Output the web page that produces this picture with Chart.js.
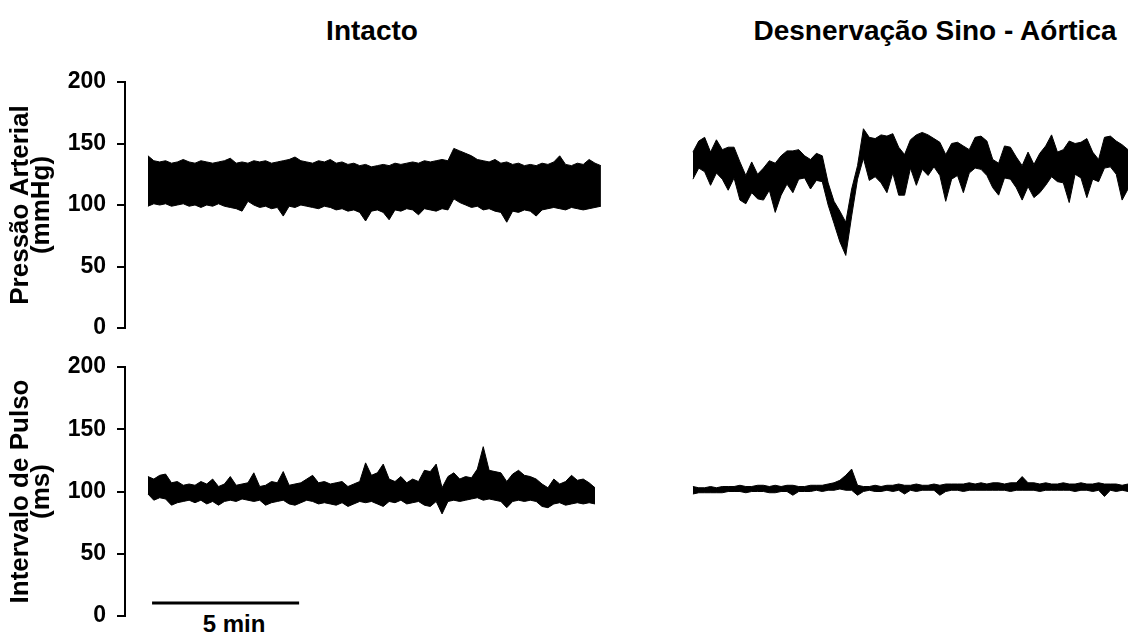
<!DOCTYPE html>
<html>
<head>
<meta charset="utf-8">
<script src="https://cdn.jsdelivr.net/npm/chart.js@4.4.1/dist/chart.umd.min.js"></script>
<style>
    body { margin: 0; background: #fff; width: 1128px; height: 634px; position: relative; overflow: hidden; }
    canvas { position: absolute; }
    .label { position: absolute; font-family: "Liberation Sans", Arial, sans-serif; font-weight: bold; color: #000; white-space: nowrap; transform: translateX(-50%); }
    .title { font-size: 28px; line-height: 28px; top: 17px; }
    #barLabel { font-size: 24px; line-height: 24px; top: 612px; left: 234px; }
</style>
</head>
<body>
<div class="label title" style="left:372px">Intacto</div>
<div class="label title" style="left:935px">Desnervação Sino - Aórtica</div>
<div class="label" id="barLabel">5 min</div>

<canvas id="paIntacto" width="620" height="276" style="left:0;top:62px"></canvas>
<canvas id="paDsa" width="508" height="276" style="left:620px;top:62px"></canvas>
<canvas id="ipIntacto" width="620" height="279" style="left:0;top:347px"></canvas>
<canvas id="ipDsa" width="508" height="279" style="left:620px;top:347px"></canvas>

<script>
// samples every 0.2 min, upper / lower edge of each trace
const sampleStep = 0.2;
const yTicks = [0, 50, 100, 150, 200];
const paTitle = ['Pressão Arterial', '(mmHg)'];
const ipTitle = ['Intervalo de Pulso', '(ms)'];

// Pressão arterial - intacto (mmHg)
const paIntactoTop = [140, 136, 135, 136, 134, 135, 137, 135, 134, 136, 135, 134, 135, 136, 138, 134, 135, 134, 136, 135,
    136, 134, 135, 136, 137, 139, 136, 135, 134, 136, 135, 137, 134, 135, 133, 134, 132, 133, 131, 132,
    133, 132, 134, 133, 134, 135, 134, 136, 135, 136, 137, 136, 146, 144, 142, 140, 137, 136, 135, 137,
    134, 135, 133, 134, 132, 133, 132, 134, 133, 135, 140, 133, 132, 134, 133, 137, 134, 132];
const paIntactoBottom = [99, 101, 100, 101, 99, 100, 101, 99, 100, 98, 100, 99, 101, 99, 98, 97, 95, 103, 100, 98,
    99, 97, 98, 91, 99, 98, 100, 99, 98, 97, 99, 98, 96, 97, 95, 96, 94, 87, 95, 96,
    94, 88, 96, 95, 97, 96, 92, 97, 96, 95, 97, 96, 105, 102, 100, 98, 99, 96, 97, 95,
    94, 86, 95, 94, 96, 95, 91, 96, 97, 98, 97, 96, 98, 97, 96, 97, 98, 99];

// Pressão arterial - desnervação sino-aórtica (mmHg)
const paDsaTop = [143, 152, 155, 143, 153, 145, 147, 147, 135, 124, 135, 125, 130, 136, 134, 140, 144, 144, 145, 140,
    137, 142, 140, 118, 103, 95, 86, 113, 132, 162, 155, 154, 157, 156, 158, 147, 141, 153, 157, 159,
    157, 154, 151, 141, 150, 151, 148, 145, 155, 156, 152, 137, 134, 148, 147, 139, 132, 143, 133, 142,
    148, 157, 143, 145, 152, 150, 151, 154, 143, 137, 155, 156, 152, 149, 145];
const paDsaBottom = [121, 130, 127, 116, 126, 121, 112, 122, 104, 101, 110, 105, 104, 112, 94, 108, 117, 110, 121, 122,
    113, 120, 119, 100, 85, 70, 59, 91, 121, 138, 120, 123, 118, 110, 126, 108, 108, 130, 116, 129,
    124, 131, 124, 103, 121, 124, 110, 126, 130, 129, 124, 114, 108, 122, 121, 114, 104, 115, 106, 110,
    116, 123, 119, 118, 102, 125, 122, 106, 121, 119, 130, 131, 125, 104, 113];

// Intervalo de pulso - intacto (ms)
const ipIntactoTop = [112, 110, 113, 114, 107, 108, 105, 106, 105, 108, 106, 110, 104, 106, 112, 105, 106, 107, 115, 104,
    105, 108, 107, 116, 105, 106, 107, 110, 113, 107, 108, 106, 107, 108, 104, 106, 108, 123, 113, 115,
    122, 110, 108, 112, 107, 110, 108, 117, 116, 122, 103, 112, 115, 110, 112, 111, 118, 136, 117, 116,
    115, 108, 114, 117, 113, 112, 110, 106, 103, 110, 106, 108, 113, 109, 110, 107, 103];
const ipIntactoBottom = [98, 93, 95, 94, 89, 91, 92, 93, 91, 93, 90, 92, 89, 92, 93, 92, 94, 93, 92, 93,
    89, 91, 92, 93, 90, 89, 91, 93, 92, 90, 91, 90, 89, 91, 88, 90, 92, 91, 92, 90,
    88, 92, 91, 93, 90, 91, 92, 89, 88, 92, 82, 92, 93, 92, 93, 94, 95, 93, 94, 93,
    92, 87, 92, 93, 92, 93, 92, 88, 87, 90, 91, 89, 90, 91, 90, 91, 90];

// Intervalo de pulso - desnervação sino-aórtica (ms)
const ipDsaTop = [104, 103, 103, 104, 103, 104, 104, 104, 105, 104, 104, 105, 105, 104, 105, 104, 105, 105, 104, 104,
    105, 105, 105, 106, 107, 109, 113, 118, 105, 104, 104, 105, 104, 105, 105, 106, 105, 105, 106, 105,
    105, 106, 105, 106, 106, 106, 106, 107, 106, 107, 106, 107, 107, 106, 107, 107, 112, 107, 107, 106,
    107, 106, 106, 107, 106, 106, 107, 106, 106, 107, 106, 106, 106, 105, 106];
const ipDsaBottom = [98, 99, 99, 99, 99, 99, 100, 100, 100, 99, 100, 100, 100, 99, 99, 100, 100, 97, 100, 100,
    100, 101, 100, 101, 101, 102, 101, 101, 97, 100, 101, 100, 100, 101, 100, 101, 98, 101, 100, 101,
    101, 101, 97, 100, 101, 101, 100, 101, 101, 101, 101, 101, 101, 101, 100, 101, 101, 101, 101, 100,
    101, 101, 101, 101, 101, 100, 101, 101, 100, 101, 96, 101, 100, 101, 100];

// 5 min scale bar (minutes, ms)
const scaleBarX = [0.14, 5.14];
const scaleBarY = 10.5;

const fontFamily = '"Liberation Sans", Arial, sans-serif';

function sampleTimes(n) {
    return Array.from({ length: n }, (_, i) => +(i * sampleStep).toFixed(1));
}

function traceChart(id, top, bottom, left, yTitle, extra) {
    const t = sampleTimes(top.length);
    const datasets = [
        {
            data: t.map((x, i) => ({ x: x, y: top[i] })),
            borderColor: '#000',
            borderWidth: 1,
            fill: false
        },
        {
            data: t.map((x, i) => ({ x: x, y: bottom[i] })),
            borderColor: '#000',
            borderWidth: 1,
            backgroundColor: '#000',
            fill: '-1'
        }
    ].concat(extra || []);

    const yScale = left ? {
        min: 0,
        max: 200,
        afterBuildTicks: s => { s.ticks = yTicks.map(v => ({ value: v })); },
        afterFit: s => {
            // fixed axis box, no extra room for the end labels
            s.width = 125;
            s.paddingTop = 0;
            s.paddingBottom = 0;
        },
        ticks: { color: '#000', padding: 11, font: { family: fontFamily, size: 23, weight: 'bold' } },
        grid: { display: true, drawOnChartArea: false, drawTicks: true, tickLength: 8, color: '#000', lineWidth: 2 },
        border: { display: true, color: '#000', width: 2 },
        title: {
            display: true,
            text: yTitle,
            color: '#000',
            padding: { top: 10, bottom: 0 },
            font: { family: fontFamily, size: 26, weight: 'bold', lineHeight: 0.82 }
        }
    } : { min: 0, max: 200, display: false };

    return new Chart(document.getElementById(id), {
        type: 'line',
        data: { datasets: datasets },
        options: {
            responsive: false,
            animation: false,
            events: [],
            elements: { point: { radius: 0 }, line: { tension: 0 } },
            layout: { padding: { top: 20, bottom: 10, left: 0, right: 0 } },
            plugins: { legend: { display: false }, tooltip: { enabled: false } },
            scales: {
                x: {
                    type: 'linear',
                    display: false,
                    min: left ? -0.78 : -2.48,
                    max: left ? 16.05 : 14.8
                },
                y: yScale
            }
        }
    });
}

traceChart('paIntacto', paIntactoTop, paIntactoBottom, true, paTitle);
traceChart('paDsa', paDsaTop, paDsaBottom, false);
traceChart('ipIntacto', ipIntactoTop, ipIntactoBottom, true, ipTitle, [{
    data: scaleBarX.map(x => ({ x: x, y: scaleBarY })),
    borderColor: '#000',
    borderWidth: 3,
    fill: false
}]);
traceChart('ipDsa', ipDsaTop, ipDsaBottom, false);
</script>
</body>
</html>
